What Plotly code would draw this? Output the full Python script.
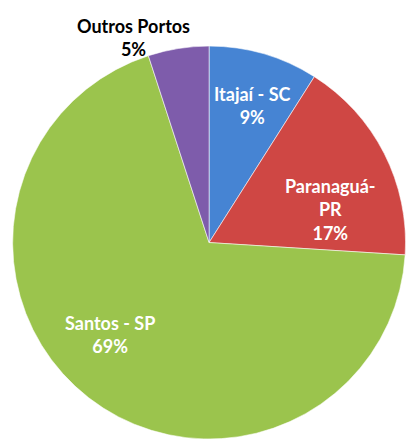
import plotly.graph_objects as go

ports = ["Itajaí - SC", "Paranaguá-<br>PR", "Santos - SP", "Outros Portos"]
shares = [9, 17, 69, 5]
colors = ["#4684D3", "#CF4744", "#9BC44D", "#7E5CAB"]
label_colors = ["white", "white", "white", "black"]
# label anchor positions (paper coords) for each slice's text
label_x = [0.623, 0.815, 0.271, 0.328]
label_y = [0.760, 0.523, 0.237, 0.915]

fig = go.Figure(go.Pie(
    labels=ports,
    values=shares,
    sort=False,
    direction="clockwise",
    rotation=0,
    marker=dict(colors=colors, line=dict(color="rgba(255,255,255,0.55)", width=1)),
    textinfo="none",
    hoverinfo="label+percent",
    showlegend=False,
    domain=dict(x=[0.03, 1.0], y=[0.0, 0.895]),
))

for name, val, x, y, c in zip(ports, shares, label_x, label_y, label_colors):
    fig.add_annotation(
        x=x, y=y, xref="paper", yref="paper",
        xanchor="center", yanchor="middle",
        text=f"<b>{name}<br>{val}%</b>",
        showarrow=False,
        font=dict(family="Lato", size=18, color=c),
        align="center",
    )

fig.update_layout(
    width=406, height=439,
    margin=dict(l=0, r=0, t=0, b=0),
    paper_bgcolor="white",
    plot_bgcolor="white",
)

fig.write_html("out.html", config={"displayModeBar": False},
               post_script="document.body.style.margin='0';")
